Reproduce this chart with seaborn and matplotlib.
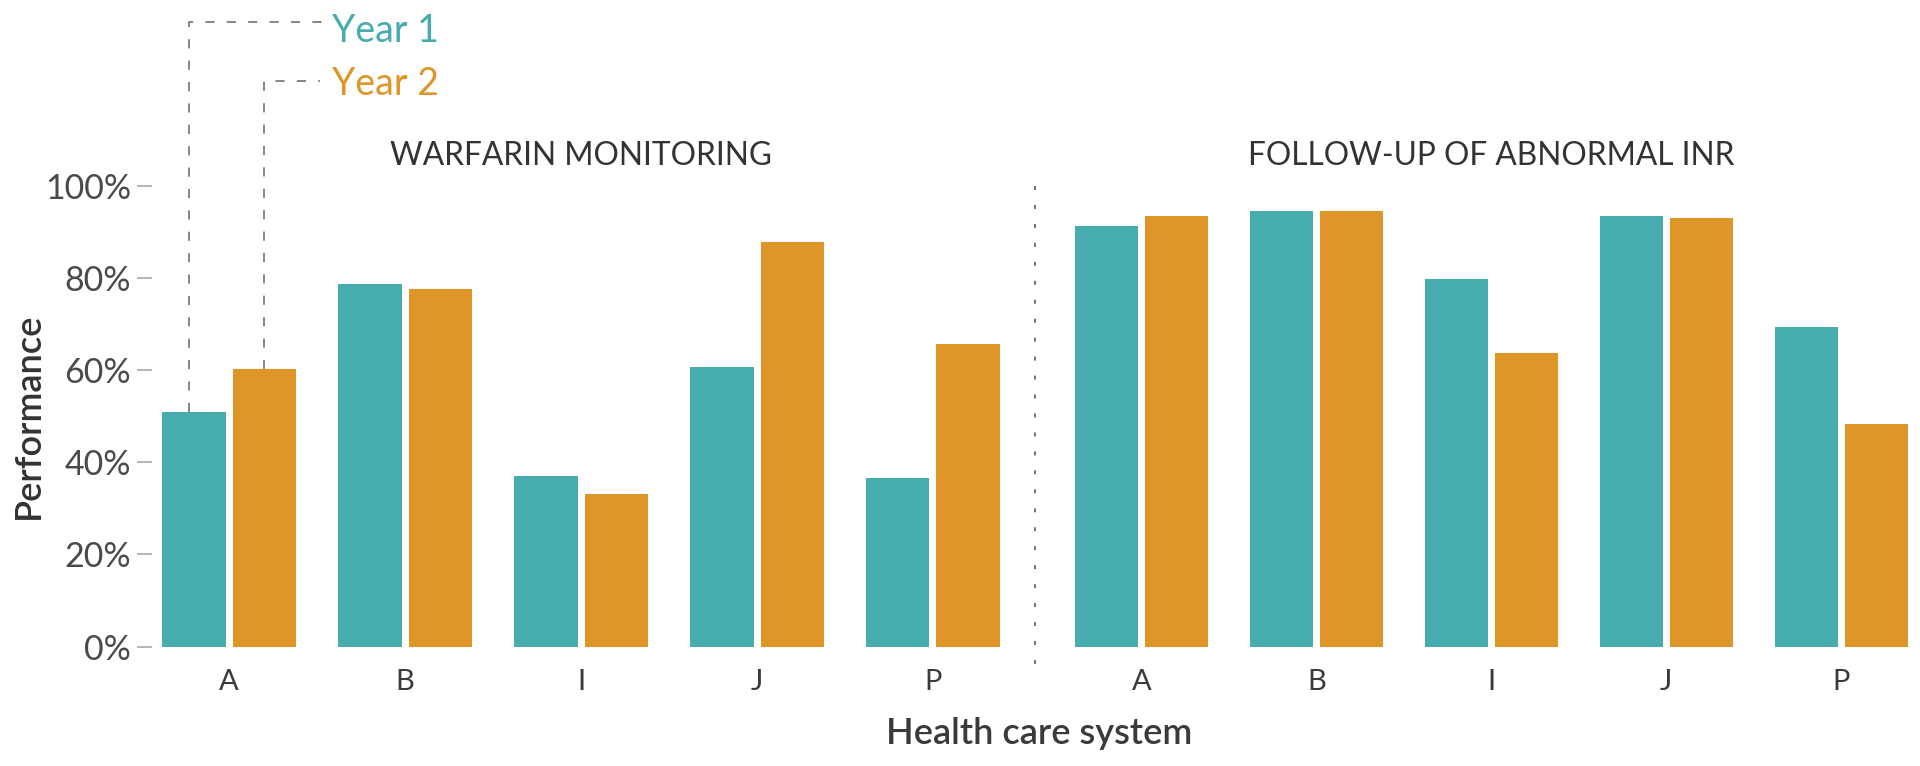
import matplotlib
matplotlib.use("Agg")
import matplotlib.pyplot as plt
from matplotlib.lines import Line2D
import seaborn as sns
import pandas as pd

systems = ["A", "B", "I", "J", "P"]
years = ["Year 1", "Year 2"]
warfarin_y1 = [51.0, 78.7, 37.1, 60.6, 36.5]
warfarin_y2 = [60.2, 77.7, 33.1, 87.8, 65.7]
inr_y1 = [91.4, 94.5, 79.7, 93.5, 69.3]
inr_y2 = [93.5, 94.5, 63.8, 93.0, 48.3]
panel_titles = ["WARFARIN MONITORING", "FOLLOW-UP OF ABNORMAL INR"]
ytick_vals = [0, 20, 40, 60, 80, 100]
ytick_labels = ["0%", "20%", "40%", "60%", "80%", "100%"]

TEAL = "#46ACAE"
ORANGE = "#DE9628"
palette = {years[0]: TEAL, years[1]: ORANGE}

sns.set_theme(style="white")
plt.rcParams["font.family"] = ["Lato", "DejaVu Sans"]

def frame(y1, y2):
    return pd.DataFrame({
        "system": systems * 2,
        "year": [years[0]] * len(systems) + [years[1]] * len(systems),
        "value": list(y1) + list(y2),
    })

W, H = 1920, 766
fig = plt.figure(figsize=(W / 100, H / 100), dpi=100)

ybot = 1 - 646.5 / H
ytop = 1 - 186 / H
axL = fig.add_axes([151.8 / W, ybot, (1035 - 151.8) / W, ytop - ybot])
axR = fig.add_axes([1035 / W, ybot, (W - 1035) / W, ytop - ybot])

dfs = [frame(warfarin_y1, warfarin_y2), frame(inr_y1, inr_y2)]
for ax, df, title in zip([axL, axR], dfs, panel_titles):
    sns.barplot(data=df, x="system", y="value", hue="year", palette=palette,
                saturation=1, width=0.8, gap=0.1, linewidth=0, ax=ax,
                legend=False, order=systems, hue_order=years)
    ax.set_ylim(0, 100)
    for s in ax.spines.values():
        s.set_visible(False)
    ax.set_xlabel("")
    ax.set_ylabel("")
    ax.tick_params(axis="x", length=0, pad=16, labelsize=21, labelcolor="#3a3a3a")
    ax.text(2, 106.6, title, ha="center", va="center", fontsize=22.8,
            color="#333333")

axL.set_xlim(-0.44, 4.58)
axR.set_xlim(-0.608, 4.45)

axL.set_yticks(ytick_vals)
axL.set_yticklabels(ytick_labels)
axL.tick_params(axis="y", length=11, width=1.2, color="#aaaaaa", pad=4,
                labelsize=24.5, labelcolor="#4a4a4a", left=True)
axR.set_yticks([])

fig.text(28 / W, 1 - 416 / H, "Performance", rotation=90, ha="center",
         va="center", fontsize=26, fontweight="semibold", color="#333333")
fig.text(1039 / W, 1 - 733 / H, "Health care system", ha="center",
         va="center", fontsize=26, fontweight="semibold", color="#3a3a3a")

# divider
fig.add_artist(Line2D([1035 / W, 1035 / W], [ytop, 1 - 667 / H],
                      transform=fig.transFigure, color="#666666",
                      linewidth=1.3, dashes=(2.2, 8.3)))

# legend leader lines
lead = dict(color="#666666", linewidth=1.1, dashes=(6, 8), clip_on=False)
x1 = -0.23
x2 = 0.2
y1_level = 135.6
y2_level = 122.8
axL.plot([x1, x1, 0.573], [warfarin_y1[0], y1_level, y1_level], **lead)
axL.plot([x2, x2, 0.516], [warfarin_y2[0], y2_level, y2_level], **lead)
axL.text(0.585, 131.3, years[0], color=TEAL, fontsize=27, va="baseline",
         ha="left", clip_on=False)
axL.text(0.585, 119.8, years[1], color=ORANGE, fontsize=27, va="baseline",
         ha="left", clip_on=False)

fig.savefig("out.png", dpi=100)
